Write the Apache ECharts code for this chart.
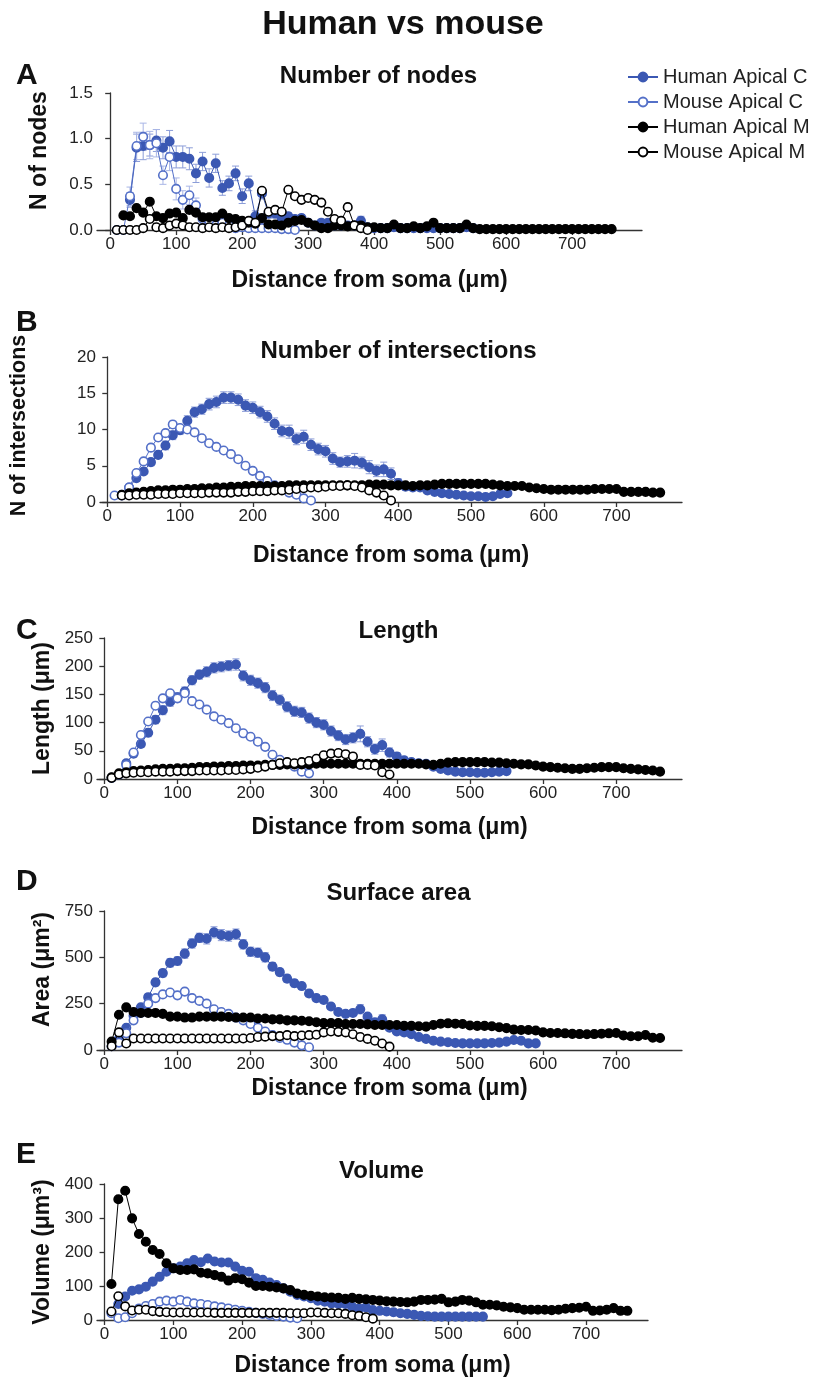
<!DOCTYPE html>
<html>
<head>
<meta charset="utf-8">
<script src="https://cdn.jsdelivr.net/npm/echarts@6/dist/echarts.min.js"></script>
<style>
html,body{margin:0;padding:0;background:#fff;}
#chart{width:815px;height:1380px;}
</style>
</head>
<body>
<div id="chart"></div>
<script>
// ---------- data ----------
const DIST = [10,20,30,40,50,60,70,80,90,100,110,120,130,140,150,160,170,180,190,200,
  210,220,230,240,250,260,270,280,290,300,310,320,330,340,350,360,370,380,390,400,
  410,420,430,440,450,460,470,480,490,500,510,520,530,540,550,560,570,580,590,600,
  610,620,630,640,650,660,670,680,690,700,710,720,730,740,750,760];
const X_TICKS = [0,100,200,300,400,500,600,700];
const SERIES_NAMES = ['Human Apical C','Mouse Apical C','Human Apical M','Mouse Apical M'];

// A: Number of nodes
const nodesHumanC = [null,null,0.33,0.90,0.92,0.93,0.98,0.90,0.97,0.80, 0.80,0.78,0.62,0.75,0.57,0.73,0.46,0.51,0.62,0.37,
  0.51,0.15,0.40,0.18,0.18,0.12,0.15,0.12,0.13,0.08, 0.05,0.08,0.08,0.05,0.05,0.05,0.05,0.10,0.03,0.02,
  0.02,0.02,0.03,0.02,0.02,0.02,0.02,0.02,0.02,0.02, 0.02,0.02,0.02,0.03,0.02];
const nodesHumanCErr = [null,null,0.08,0.15,0.15,0.12,0.12,0.12,0.12,0.12, 0.12,0.12,0.10,0.10,0.10,0.10,0.08,0.08,0.08,0.08,
  0.08,0.06,0.06,0.05,0.05,0.04,0.04,0.04,0.04,0.03, 0.03,0.03,0.03,0.03,0.03,0.03,0.03,0.05,0.02,0.02,
  0.02,0.02,0.02,0.02,0.02,0.02,0.02,0.02,0.02,0.02, 0.02,0.02,0.02,0.02,0.02];
const nodesMouseC = [0,0,0.37,0.92,1.02,0.93,0.95,0.60,0.80,0.45, 0.33,0.38,0.27,0.12,0.10,0.05,0.08,0.05,0.02,0.03,
  0.02,0.02,0.02,0.02,0.02,0.01,0.01,0.00];
const nodesMouseCErr = [0,0,0.10,0.15,0.15,0.15,0.15,0.10,0.15,0.12, 0.10,0.10,0.08,0.06,0.05,0.04,0.04,0.03,0.02,0.02,
  0.02,0.02,0.02,0.02,0.02,0.01,0.01,0.00];
const nodesHumanM = [null,0.16,0.15,0.24,0.19,0.31,0.15,0.13,0.18,0.19, 0.13,0.22,0.19,0.14,0.14,0.14,0.18,0.13,0.12,0.10,
  0.08,0.07,0.13,0.06,0.06,0.05,0.08,0.10,0.11,0.08, 0.05,0.02,0.02,0.05,0.05,0.04,0.05,0.05,0.03,0.03,
  0.02,0.02,0.06,0.02,0.02,0.04,0.02,0.04,0.08,0.02, 0.02,0.02,0.02,0.06,0.02,0.01,0.01,0.01,0.01,0.01,
  0.01,0.01,0.01,0.01,0.01,0.01,0.01,0.01,0.01,0.01, 0.01,0.01,0.01,0.01,0.01,0.01];
const nodesMouseM = [0,0,0,0,0.02,0.12,0.03,0.02,0.05,0.07, 0.05,0.03,0.03,0.02,0.03,0.02,0.03,0.02,0.03,0.05,
  0.10,0.08,0.43,0.20,0.22,0.20,0.44,0.37,0.33,0.35, 0.33,0.30,0.20,0.12,0.10,0.25,0.05,0.02,0.00];

// B: Number of intersections
const interHumanC = [null,0.9,2.0,3.3,4.2,5.5,6.5,7.8,9.2,9.9, 11.2,12.4,12.8,13.5,13.8,14.4,14.4,14.1,13.3,13.0,
  12.4,11.8,10.8,9.8,9.7,8.7,9.0,7.9,7.3,7.0, 6.0,5.5,5.6,5.7,5.4,4.8,4.3,4.5,3.9,2.6,
  2.1,2.0,2.0,1.6,1.4,1.2,1.1,1.0,0.9,0.8, 0.8,0.7,0.8,1.1,1.2];
const interHumanCErr = [null,0.1,0.3,0.4,0.4,0.5,0.5,0.6,0.6,0.6, 0.7,0.7,0.7,0.8,0.8,0.8,0.8,0.8,0.8,0.8,
  0.8,0.8,0.8,0.8,0.9,0.8,0.9,0.8,0.8,0.8, 0.8,0.7,0.8,1.0,0.8,0.9,0.8,1.0,0.8,0.6,
  0.5,0.4,0.4,0.3,0.3,0.3,0.3,0.2,0.2,0.2, 0.2,0.2,0.2,0.3,0.3];
const interMouseC = [0.9,1.0,2.0,4.0,5.6,7.5,8.9,9.5,10.7,10.2, 10.0,9.6,8.8,8.1,7.6,7.1,6.6,5.9,5.0,4.3,
  3.6,2.9,2.3,1.8,1.3,1.0,0.5,0.2];
const interHumanM = [null,1.0,1.2,1.3,1.4,1.5,1.6,1.6,1.7,1.7, 1.8,1.8,1.9,1.9,2.0,2.0,2.1,2.1,2.2,2.2,
  2.2,2.2,2.2,2.2,2.3,2.3,2.3,2.3,2.3,2.3, 2.3,2.3,2.3,2.3,2.3,2.4,2.4,2.4,2.3,2.3,
  2.3,2.2,2.3,2.3,2.4,2.5,2.5,2.5,2.5,2.5, 2.5,2.5,2.4,2.3,2.2,2.2,2.2,2.0,1.9,1.8,
  1.7,1.7,1.7,1.7,1.7,1.7,1.8,1.8,1.8,1.8, 1.4,1.4,1.4,1.4,1.3,1.3];
const interMouseM = [null,0.9,0.9,1.0,1.0,1.0,1.1,1.1,1.1,1.2, 1.2,1.2,1.2,1.3,1.3,1.3,1.3,1.4,1.4,1.5,
  1.5,1.5,1.6,1.6,1.7,1.8,1.9,2.0,2.0,2.1, 2.2,2.2,2.3,2.2,2.0,1.6,1.3,0.9,0.2];

// C: Length
const lenHumanC = [null,8,28,45,62,82,105,122,137,145, 155,175,185,190,197,199,201,203,183,175,
  170,162,148,140,128,120,118,108,100,96, 85,77,70,73,80,66,53,60,47,40,
  33,30,28,27,22,18,15,13,12,12, 11,11,12,13,14];
const lenHumanCErr = [null,3,5,6,6,7,7,8,8,8, 8,8,8,9,9,9,9,10,9,9,
  9,9,9,9,9,9,9,9,9,9, 9,9,9,9,14,9,9,11,8,7,
  6,5,5,4,4,3,3,3,3,3, 3,3,3,3,3];
const lenMouseC = [2,8,25,47,78,102,130,143,152,143, 152,138,132,123,111,105,99,90,81,75,
  66,57,43,34,28,22,13,10];
const lenHumanM = [3,10,12,14,15,16,17,18,18,19, 19,20,21,21,22,22,23,23,24,24,
  24,25,25,25,26,26,26,26,27,27, 27,27,27,27,27,27,27,27,27,27,
  27,27,27,26,25,27,29,30,30,30, 30,30,29,29,28,27,26,26,24,22,
  21,20,19,18,18,19,20,21,21,21, 19,18,17,16,15,13];
const lenMouseM = [2,8,10,11,12,12,13,13,13,14, 14,14,15,15,15,15,16,16,17,18,
  20,22,25,28,30,28,30,32,36,42, 45,46,44,40,25,25,24,12,8];

// D: Surface area
const areaHumanC = [null,60,120,185,230,285,365,415,470,480, 520,575,605,600,635,620,615,625,570,530,
  525,500,450,420,385,360,345,305,280,270, 235,205,195,200,220,180,150,165,120,100,
  95,85,70,60,50,45,42,38,36,36, 36,36,38,40,45,54,50,36,36];
const areaHumanCErr = [null,5,10,12,15,15,18,20,22,22, 25,25,25,28,30,30,28,28,25,25,
  25,25,22,20,20,20,18,18,18,15, 15,15,15,15,25,15,15,25,15,12,
  10,10,8,8,6,5,5,5,5,5, 5,5,5,5,5,5,5,5,5];
const areaMouseC = [20,40,90,160,200,250,280,300,310,295, 315,280,265,250,220,205,195,175,160,140,
  120,100,80,65,55,40,25,15];
const areaHumanM = [45,190,230,205,200,200,200,195,180,180, 175,175,180,180,180,180,178,175,175,175,
  170,170,165,165,160,160,158,155,150,145, 145,145,140,140,140,138,135,135,135,135,
  130,130,128,126,135,142,144,142,140,132, 130,130,128,123,118,110,108,108,105,95,
  92,92,90,87,86,85,86,88,90,92, 78,74,74,81,66,65];
const areaMouseM = [20,95,35,62,62,62,62,62,62,62, 62,62,62,62,62,62,62,62,62,65,
  70,72,75,75,80,75,78,80,82,95, 100,98,95,85,70,60,50,35,18];

// E: Volume
const volHumanC = [null,47,69,86,90,98,113,127,142,152, 157,167,176,170,181,172,169,169,157,145,
  142,123,118,110,103,93,83,74,69,64, 57,54,49,47,47,39,34,37,29,27,
  25,23,20,18,15,12,11,10,10,10, 10,10,10,10,10];
const volMouseC = [20,5,8,20,34,41,47,54,57,54, 59,54,49,47,44,40,37,34,30,27,
  24,21,18,15,12,10,7,5];
const volHumanM = [106,355,380,299,253,230,206,194,167,152, 147,147,149,139,137,132,127,116,123,120,
  110,100,100,98,96,93,88,78,74,71, 69,67,66,65,62,65,62,61,59,57,
  55,54,53,52,54,59,59,60,62,52, 54,59,57,52,45,45,43,39,37,35,
  30,30,30,30,29,30,33,35,36,39, 27,28,30,35,27,27];
const volMouseM = [25,70,40,28,30,30,26,24,23,22, 22,22,22,22,22,21,21,21,21,21,
  21,21,21,21,21,21,20,20,20,22, 22,21,20,20,18,14,12,8,4];

// ---------- layout / style ----------
const FONT = 'Liberation Sans, Arial, Helvetica, sans-serif';
const C_HC = '#3b58b3', C_MC = '#5470c8', C_ERR_H = '#8c9dd8', C_ERR_M = '#a9b6e6';

const panels = [
  {letter:'A', title:'Number of nodes', yName:'N of nodes',
   grid:{left:97, top:93, width:545, height:137}, xMin:-20, xMax:806, yMax:1.5, yInt:0.5, dec:1,
   letterTop:56, titleY:59, xNameGap:39, yNameGap:46, yNameFont:23, yNamePad:[0,0,0,22],
   hc:nodesHumanC, hcErr:nodesHumanCErr, mc:nodesMouseC, mcErr:nodesMouseCErr, hm:nodesHumanM, mm:nodesMouseM},
  {letter:'B', title:'Number of intersections', yName:'N of intersections',
   grid:{left:97, top:357, width:585, height:145}, xMin:-10, xMax:790, yMax:20, yInt:5, dec:0,
   letterTop:303, titleY:334, xNameGap:42, yNameGap:70, yNameFont:21.5, yNamePad:[0,0,0,8],
   hc:interHumanC, hcErr:interHumanCErr, mc:interMouseC, mcErr:null, hm:interHumanM, mm:interMouseM},
  {letter:'C', title:'Length', yName:'Length (μm)',
   grid:{left:97, top:638, width:585, height:141}, xMin:-10, xMax:790, yMax:250, yInt:50, dec:0,
   letterTop:611, titleY:614, xNameGap:37, yNameGap:42, yNameFont:23, yNamePad:[0,0,0,0],
   hc:lenHumanC, hcErr:lenHumanCErr, mc:lenMouseC, mcErr:null, hm:lenHumanM, mm:lenMouseM},
  {letter:'D', title:'Surface area', yName:'Area (μm²)',
   grid:{left:97, top:911, width:585, height:139}, xMin:-10, xMax:790, yMax:750, yInt:250, dec:0,
   letterTop:862, titleY:876, xNameGap:27, yNameGap:42, yNameFont:23, yNamePad:[0,0,0,22],
   hc:areaHumanC, hcErr:areaHumanCErr, mc:areaMouseC, mcErr:null, hm:areaHumanM, mm:areaMouseM},
  {letter:'E', title:'Volume', yName:'Volume (μm³)',
   grid:{left:97, top:1184, width:551, height:136}, xMin:-11, xMax:790, yMax:400, yInt:100, dec:0,
   letterTop:1135, titleY:1154, xNameGap:34, yNameGap:42, yNameFont:23, yNamePad:[0,0,0,0],
   hc:volHumanC, hcErr:null, mc:volMouseC, mcErr:null, hm:volHumanM, mm:volMouseM}
];

function pts(vals){
  const out = [];
  vals.forEach((v,i)=>{ if(v!==null && v!==undefined) out.push([DIST[i], v]); });
  return out;
}
function errPts(vals, errs){
  const out = [];
  vals.forEach((v,i)=>{ if(v!==null && errs[i]!==null && errs[i]>0) out.push([DIST[i], v, errs[i]]); });
  return out;
}

const grids=[], xAxes=[], yAxes=[], series=[], titles=[];
titles.push({text:'Human vs mouse', left:398, top:3, textAlign:'center',
  textStyle:{fontFamily:FONT, fontSize:34, fontWeight:'bold', color:'#111'}});

panels.forEach((p,k)=>{
  grids.push(Object.assign({containLabel:false}, p.grid));
  const cx = p.grid.left + p.grid.width/2 + 4;
  titles.push({text:p.letter, left:11, top:p.letterTop,
    textStyle:{fontFamily:FONT, fontSize:30, fontWeight:'bold', color:'#111'}});
  titles.push({text:p.title, left:cx, top:p.titleY, textAlign:'center',
    textStyle:{fontFamily:FONT, fontSize:24, fontWeight:'bold', color:'#111'}});
  xAxes.push({gridIndex:k, type:'value', min:p.xMin, max:p.xMax,
    name:'Distance from soma (μm)', nameLocation:'middle', nameGap:p.xNameGap,
    nameTextStyle:{fontFamily:FONT, fontSize:23, fontWeight:'bold', color:'#111'},
    axisLine:{show:true, onZero:false, lineStyle:{color:'#333', width:1.3}},
    axisTick:{show:true, customValues:X_TICKS, length:5, lineStyle:{color:'#333', width:1.3}},
    axisLabel:{customValues:X_TICKS, fontFamily:FONT, fontSize:17, color:'#222', margin:6},
    splitLine:{show:false}});
  yAxes.push({gridIndex:k, type:'value', min:0, max:p.yMax, interval:p.yInt,
    name:p.yName, nameLocation:'middle', nameRotate:90, nameGap:p.yNameGap,
    nameTextStyle:{fontFamily:FONT, fontSize:p.yNameFont, fontWeight:'bold', color:'#111', padding:p.yNamePad},
    axisLine:{show:true, lineStyle:{color:'#333', width:1.3}},
    axisTick:{show:true, length:5, lineStyle:{color:'#333', width:1.3}},
    axisLabel:{fontFamily:FONT, fontSize:17, color:'#222', margin:4,
      formatter:(v)=> v.toFixed(p.dec)},
    splitLine:{show:false}});

  const errSeries = (vals, errs, color) => ({
    type:'custom', xAxisIndex:k, yAxisIndex:k, z:1, silent:true,
    data: errPts(vals, errs),
    renderItem:(params, api)=>{
      const x = api.value(0), y = api.value(1), e = api.value(2);
      const top = api.coord([x, y+e]), bot = api.coord([x, y-e]);
      const style = {stroke:color, lineWidth:1};
      return {type:'group', children:[
        {type:'line', shape:{x1:top[0], y1:top[1], x2:bot[0], y2:bot[1]}, style},
        {type:'line', shape:{x1:top[0]-3.5, y1:top[1], x2:top[0]+3.5, y2:top[1]}, style},
        {type:'line', shape:{x1:bot[0]-3.5, y1:bot[1], x2:bot[0]+3.5, y2:bot[1]}, style}
      ]};
    }
  });
  if(p.hcErr) series.push(errSeries(p.hc, p.hcErr, C_ERR_H));
  if(p.mcErr) series.push(errSeries(p.mc, p.mcErr, C_ERR_M));

  const line = (name, vals, fill, stroke, z) => ({
    name, type:'line', xAxisIndex:k, yAxisIndex:k, data:pts(vals), z,
    symbol:'circle', symbolSize:8.5, showSymbol:true,
    lineStyle:{color:stroke, width:1},
    itemStyle:{color:fill, borderColor:stroke, borderWidth:1.6},
    emphasis:{disabled:true}
  });
  series.push(line(SERIES_NAMES[0], p.hc, C_HC, C_HC, 3));
  series.push(line(SERIES_NAMES[1], p.mc, '#ffffff', C_MC, 4));
  series.push(line(SERIES_NAMES[2], p.hm, '#000000', '#000000', 5));
  series.push(line(SERIES_NAMES[3], p.mm, '#ffffff', '#000000', 6));
});

const chart = echarts.init(document.getElementById('chart'), null, {renderer:'canvas'});
chart.setOption({
  animation:false,
  backgroundColor:'#ffffff',
  title:titles,
  legend:{data:SERIES_NAMES, orient:'vertical', left:622, top:62, itemWidth:30, itemHeight:11,
    itemGap:5, textStyle:{fontFamily:FONT, fontSize:20, color:'#222'}, selectedMode:false},
  grid:grids, xAxis:xAxes, yAxis:yAxes, series
});
</script>
</body>
</html>
